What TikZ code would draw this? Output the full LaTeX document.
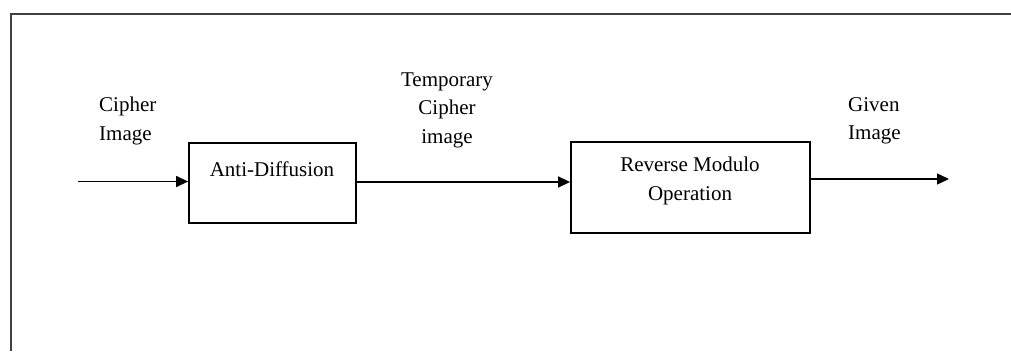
\documentclass[tikz,border=0pt]{standalone}
\usepackage{fontspec}
\setmainfont{Liberation Serif}
\usetikzlibrary{arrows.meta}

\begin{document}
\begin{tikzpicture}[x=1pt,y=-1pt,
    blockbox/.style={draw, line width=1.8pt, minimum width=#1},
    txt/.style={font=\fontsize{21}{28.5}\selectfont, align=center, inner sep=0pt},
    flow/.style={line width=1.4pt, -{Triangle[length=12pt,width=11pt]}}]
\useasboundingbox (0,0) rectangle (1011,351);
% frame
\draw[line width=1.8pt, black!75] (1011,14) -- (11,14) -- (11,351);
% blocks
\node[blockbox=167pt, minimum height=80pt] (antidiff) at (272.5,183) {};
\node[txt] (antidifftxt) at (272,169) {Anti-Diffusion};
\node[blockbox=239pt, minimum height=91pt] (revmod) at (690.5,187.5) {};
\node[txt] (revmodtxt) at (690,181) {Reverse Modulo\\Operation};
% labels
\node[txt, align=left, anchor=west] (cipherin) at (99,121) {Cipher\\Image};
\node[txt] (temp) at (447,110) {Temporary\\Cipher\\image};
\node[txt, align=left, anchor=west] (given) at (848,121) {Given\\Image};
% arrows
\coordinate (start) at (78,181.5);
\coordinate (stop) at (949,179);
\draw[flow] (start) -- (start -| antidiff.west);
\draw[flow] (antidiff.east |- 0,182) -- (revmod.west |- 0,182);
\draw[flow] (revmod.east |- stop) -- (stop);
\end{tikzpicture}
\end{document}
